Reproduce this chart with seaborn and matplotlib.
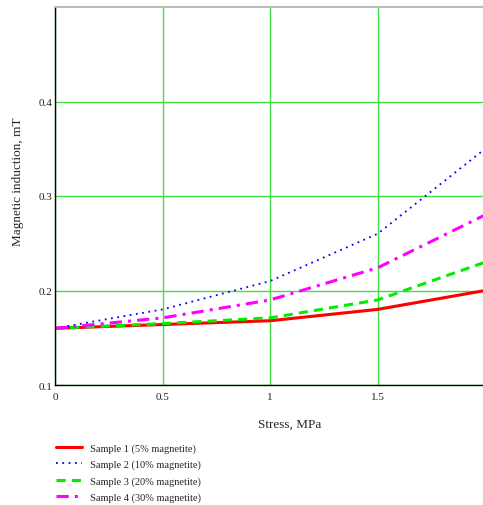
import matplotlib
matplotlib.use("Agg")
import matplotlib.pyplot as plt
import seaborn as sns
import pandas as pd

stress = [0.0, 0.5, 1.0, 1.5, 2.0]
sample1 = [0.160, 0.164, 0.168, 0.180, 0.200]
sample2 = [0.160, 0.180, 0.210, 0.260, 0.350]
sample3 = [0.160, 0.165, 0.171, 0.190, 0.230]
sample4 = [0.160, 0.171, 0.190, 0.224, 0.280]
labels = ["Sample 1 (5% magnetite)", "Sample 2 (10% magnetite)",
          "Sample 3 (20% magnetite)", "Sample 4 (30% magnetite)"]
xticks = [0, 0.5, 1, 1.5]
xticklabels = ["0", "0.5", "1", "1.5"]
yticks = [0.1, 0.2, 0.3, 0.4]
yticklabels = ["0.1", "0.2", "0.3", "0.4"]

sns.set_style("white")
plt.rcParams['font.family'] = ['Liberation Serif', 'DejaVu Serif']

fig = plt.figure(figsize=(4.83, 5.06), dpi=100)
ax = fig.add_axes([55/483, 1-386/506, 428/483, 378/506])

styles = [
    dict(color="#ff0000", linestyle="-", linewidth=2.2),
    dict(color="#0000ff", linestyle=(0, (1, 2.5)), linewidth=1.3),
    dict(color="#00ee00", linestyle=(0, (3, 2)), linewidth=2.2),
    dict(color="#ff00ff", linestyle=(0, (4, 2, 1, 2)), linewidth=2.2),
]
series = [sample1, sample2, sample3, sample4]
for vals, lab, st in zip(series, labels, styles):
    df = pd.DataFrame({"x": stress, "y": vals})
    sns.lineplot(data=df, x="x", y="y", ax=ax, label=lab, **st)

ax.set_xlim(0, 1.99)
ax.set_ylim(0.1, 0.5)
ax.set_xticks(xticks)
ax.set_xticklabels(xticklabels)
ax.set_yticks(yticks)
ax.set_yticklabels(yticklabels)
ax.grid(True, color="#44dd44", linewidth=1.0)
ax.set_axisbelow(True)
ax.tick_params(axis="both", length=0, labelsize=8, colors="#222222")
ax.tick_params(axis="x", pad=5)
ax.tick_params(axis="y", pad=2)

ax.spines["right"].set_visible(False)
ax.spines["top"].set_color("#bbbbbb")
ax.spines["top"].set_linewidth(1.5)
ax.spines["left"].set_color("black")
ax.spines["bottom"].set_color("black")
ax.spines["left"].set_linewidth(1)
ax.spines["bottom"].set_linewidth(1)

ax.set_xlabel("Stress, MPa", fontsize=9.5)
ax.set_ylabel("Magnetic induction, mT", fontsize=9.5)
ax.xaxis.set_label_coords((290-55)/428, (386-419)/378)
ax.yaxis.set_label_coords((18-55)/428, (386-182)/378)
ax.yaxis.label.set_verticalalignment("center")

leg_handles, leg_labels = ax.get_legend_handles_labels()
ax.get_legend().remove()
fig.legend(leg_handles, leg_labels, loc="upper left",
           bbox_to_anchor=(52/483, 1-440/506), frameon=False,
           fontsize=7.5, handlelength=2.5, labelspacing=0.66,
           handletextpad=0.7, borderaxespad=0)

fig.savefig("out.png", dpi=100)
